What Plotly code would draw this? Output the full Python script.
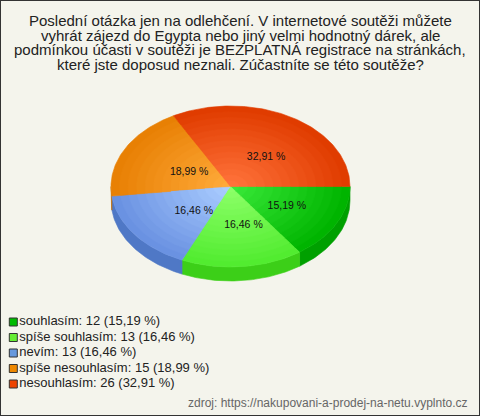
import numpy as np
import plotly.graph_objects as go

# ---------------- data ----------------
categories = ["souhlasím", "spíše souhlasím", "nevím", "spíše nesouhlasím", "nesouhlasím"]
counts = [12, 13, 13, 15, 26]
title_lines = [
    "Poslední otázka jen na odlehčení. V internetové soutěži můžete",
    "vyhrát zájezd do Egypta nebo jiný velmi hodnotný dárek, ale",
    "podmínkou účasti v soutěži je BEZPLATNÁ registrace na stránkách,",
    "které jste doposud neznali. Zúčastníte se této soutěže?",
]
source_text = "zdroj: https://nakupovani-a-prodej-na-netu.vyplnto.cz"

# ---------------- styles ----------------
rim_colors = [(0x00, 0xb4, 0x00), (0x52, 0xec, 0x30), (0x6a, 0x92, 0xe2), (0xe8, 0x80, 0x04), (0xe0, 0x3c, 0x00)]
center_colors = [(0x38, 0xe8, 0x38), (0x8c, 0xff, 0x68), (0xaa, 0xcc, 0xff), (0xff, 0xaa, 0x3a), (0xff, 0x72, 0x3a)]
side_colors = ["#00a000", "#3ccf18", "#4f78c6", "#c86e00", "#c83c00"]
legend_colors = ["#00bb00", "#66ee33", "#6699dd", "#ee8800", "#ee4400"]
BG = "#f4f4ec"
FONT = "Liberation Sans, Arial, sans-serif"
W, H = 480, 416
CX, CY, RX, RY, DEPTH = 230.5, 186.5, 119.5, 80.5, 14
LAYERS = 14
LABEL_R = 0.46
LABEL_DX, LABEL_DY = 7.5, 2.5

total = sum(counts)
fractions = [c / total for c in counts]
pct_text = [f"{100 * f:.2f}".replace(".", ",") + " %" for f in fractions]

fig = go.Figure()

# slice angles (clockwise from 3 o'clock)
bounds = np.concatenate([[0.0], np.cumsum(fractions)]) * 2 * np.pi


def arc(a1, a2, scale=1.0, dy=0.0):
    n = max(3, int(np.degrees(a2 - a1)) + 2)
    t = np.linspace(a1, a2, n)
    return CX + scale * RX * np.cos(t), CY + scale * RY * np.sin(t) + dy


def mix(c1, c2, t):
    r, g, b = (int(round(a + (b_ - a) * t)) for a, b_ in zip(c1, c2))
    return f"rgb({r},{g},{b})"


# sides (front half only)
for i in range(len(counts)):
    a1, a2 = bounds[i], min(bounds[i + 1], np.pi)
    if a1 >= np.pi:
        continue
    xt, yt = arc(a1, a2)
    xb, yb = arc(a1, a2, dy=DEPTH)
    xs = np.concatenate([xt, xb[::-1], xt[:1]])
    ys = np.concatenate([yt, yb[::-1], yt[:1]])
    fig.add_trace(go.Scatter(x=xs, y=ys, mode="lines", fill="toself",
                             fillcolor=side_colors[i],
                             line=dict(color=side_colors[i], width=0.6),
                             hoverinfo="skip", showlegend=False))

# top faces, shaded from rim to centre
for k in range(LAYERS):
    s = 1.0 - k / LAYERS
    t = k / (LAYERS - 1)
    for i in range(len(counts)):
        col = mix(rim_colors[i], center_colors[i], t)
        xt, yt = arc(bounds[i], bounds[i + 1], scale=s)
        xs = np.concatenate([[CX], xt, [CX]])
        ys = np.concatenate([[CY], yt, [CY]])
        fig.add_trace(go.Scatter(x=xs, y=ys, mode="lines", fill="toself",
                                 fillcolor=col, line=dict(color=col, width=0.6),
                                 name=categories[i], hoverinfo="skip", showlegend=False))

# percentage labels
mids = (bounds[:-1] + bounds[1:]) / 2
fig.add_trace(go.Scatter(
    x=CX + LABEL_DX + LABEL_R * RX * np.cos(mids),
    y=CY + LABEL_DY + LABEL_R * RY * np.sin(mids),
    mode="text", text=pct_text,
    textfont=dict(family=FONT, size=10.5, color="#111"),
    hoverinfo="skip", showlegend=False))

# legend (drawn as a marker+text column)
legend_text = [f"{c}: {n} ({p})" for c, n, p in zip(categories, counts, pct_text)]
legend_y = [322 + 15.5 * k for k in range(len(categories))]
fig.add_trace(go.Scatter(
    x=[13.3] * len(categories), y=legend_y, mode="markers+text",
    marker=dict(symbol="square", size=8, color=legend_colors,
                line=dict(color="#333", width=1)),
    text=legend_text, textposition="middle right",
    textfont=dict(family=FONT, size=13, color="#222"),
    hoverinfo="skip", showlegend=False))

annotations = []
for k, line in enumerate(title_lines):
    annotations.append(dict(x=240, y=20.3 + 14.7 * k, xref="x", yref="y",
                            text=line, showarrow=False, xanchor="center", yanchor="middle",
                            font=dict(family=FONT, size=15, color="#222")))
annotations.append(dict(x=470, y=403, xref="x", yref="y", text=source_text,
                        showarrow=False, xanchor="right", yanchor="middle",
                        font=dict(family=FONT, size=12, color="#666")))

fig.update_layout(
    width=W, height=H, margin=dict(l=0, r=0, t=0, b=0),
    paper_bgcolor=BG, plot_bgcolor=BG,
    xaxis=dict(range=[0, W], visible=False, fixedrange=True),
    yaxis=dict(range=[H, 0], visible=False, fixedrange=True),
    annotations=annotations,
    shapes=[dict(type="rect", xref="paper", yref="paper", x0=0, y0=0, x1=1, y1=1,
                 line=dict(color="#333", width=2))],
    showlegend=False,
)

fig.write_html("out.html", config={"displayModeBar": False},
               post_script="document.body.style.margin='0';document.body.style.padding='0';"
                           "document.body.style.overflow='hidden';")
